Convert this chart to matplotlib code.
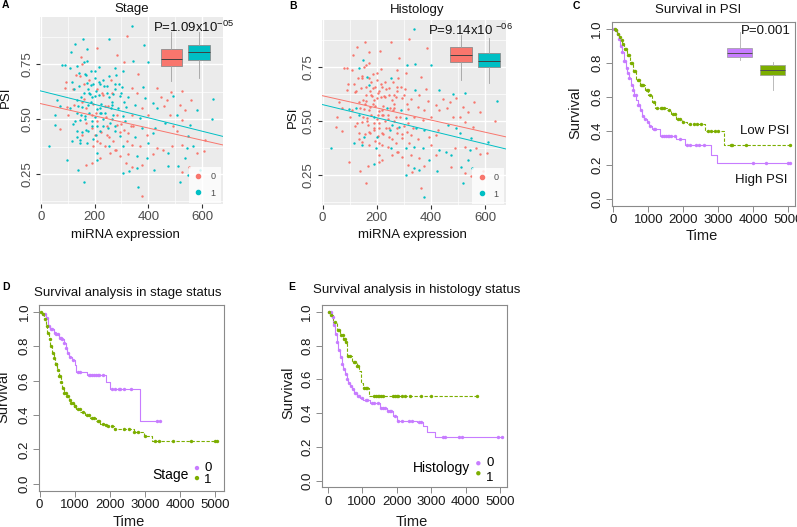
import numpy as np
import matplotlib
matplotlib.use('Agg')
import matplotlib.pyplot as plt
from matplotlib.lines import Line2D

plt.rcParams['font.family'] = ['Liberation Sans', 'DejaVu Sans']
plt.rcParams['mathtext.fontset'] = 'custom'
plt.rcParams['mathtext.rm'] = 'Liberation Sans'
plt.rcParams['mathtext.it'] = 'Liberation Sans'
plt.rcParams['mathtext.bf'] = 'Liberation Sans:bold'

# ---------------- scatter data (panels A and B share points) ----------------
mirna = [338, 320, 156, 254, 211, 128, 171, 384, 283, 112,
         151, 171, 310, 342, 399, 78, 90, 109, 134, 153,
         276, 307, 202, 144, 147, 165, 252, 363, 94, 115,
         143, 171, 186, 221, 245, 276, 304, 341, 382, 431,
         483, 527, 90, 119, 208, 183, 202, 227, 270, 295,
         326, 357, 389, 446, 469, 493, 558, 642, 60, 134,
         162, 72, 97, 124, 152, 177, 208, 239, 264, 289,
         316, 351, 376, 419, 431, 460, 518, 536, 580, 53,
         103, 136, 165, 189, 221, 243, 270, 307, 338, 369,
         400, 481, 506, 524, 636, 72, 51, 128, 146, 169,
         190, 208, 233, 258, 283, 314, 345, 376, 425, 462,
         493, 555, 134, 152, 177, 202, 221, 245, 276, 295,
         326, 351, 394, 419, 506, 549, 611, 115, 146, 173,
         196, 221, 252, 276, 307, 338, 369, 400, 431, 456,
         487, 524, 543, 580, 607, 568, 32, 208, 221, 258,
         295, 326, 357, 394, 419, 475, 537, 169, 190, 208,
         317, 338, 357, 376, 421, 97, 140, 307, 329, 475,
         512, 553, 592, 524, 159, 518, 363, 376, 549,
         150, 160, 175, 185, 195, 205, 215, 225, 235, 245,
         255, 265, 275, 140, 150, 165, 180, 190, 200, 210,
         220, 230, 240, 250, 260, 170, 185, 200, 215, 230,
         160, 125, 110, 120, 135, 145, 155, 195, 205, 170,
         180, 190, 215, 225, 280, 290, 300, 310, 265, 275,
         155, 170, 195, 205, 230, 250, 265, 285, 300, 310,
         190, 210, 225, 240, 255, 270, 280, 160, 180, 260,
         295, 320, 335, 245, 130]
psi = [0.925, 0.882, 0.867, 0.867, 0.827, 0.842, 0.82, 0.839, 0.793, 0.805,
       0.782, 0.767, 0.762, 0.765, 0.762, 0.748, 0.747, 0.736, 0.744, 0.752,
       0.736, 0.721, 0.721, 0.71, 0.698, 0.706, 0.698, 0.706, 0.672, 0.672,
       0.652, 0.667, 0.655, 0.66, 0.652, 0.66, 0.649, 0.644, 0.649, 0.644,
       0.624, 0.629, 0.644, 0.637, 0.64, 0.617, 0.606, 0.618, 0.613, 0.606,
       0.603, 0.621, 0.595, 0.603, 0.59, 0.606, 0.59, 0.594, 0.59, 0.59,
       0.594, 0.56, 0.557, 0.563, 0.555, 0.567, 0.548, 0.56, 0.563, 0.552,
       0.557, 0.567, 0.552, 0.575, 0.552, 0.56, 0.567, 0.544, 0.544, 0.521,
       0.521, 0.529, 0.514, 0.521, 0.529, 0.511, 0.521, 0.514, 0.521, 0.506,
       0.521, 0.521, 0.521, 0.498, 0.503, 0.455, 0.475, 0.49, 0.498, 0.483,
       0.471, 0.49, 0.468, 0.483, 0.475, 0.49, 0.468, 0.46, 0.46, 0.483,
       0.471, 0.475, 0.445, 0.429, 0.445, 0.429, 0.445, 0.429, 0.445, 0.422,
       0.437, 0.419, 0.429, 0.437, 0.445, 0.422, 0.406, 0.399, 0.406, 0.391,
       0.376, 0.391, 0.376, 0.36, 0.376, 0.383, 0.376, 0.391, 0.368, 0.36,
       0.376, 0.383, 0.368, 0.348, 0.353, 0.376, 0.376, 0.345, 0.322, 0.345,
       0.333, 0.342, 0.33, 0.322, 0.342, 0.345, 0.322, 0.291, 0.302, 0.314,
       0.299, 0.284, 0.276, 0.291, 0.268, 0.314, 0.268, 0.253, 0.265, 0.287,
       0.287, 0.284, 0.268, 0.26, 0.215, 0.215, 0.192, 0.15, 0.245,
       0.60, 0.62, 0.64, 0.58, 0.66, 0.63, 0.61, 0.57, 0.65, 0.62,
       0.60, 0.58, 0.64, 0.56, 0.52, 0.50, 0.53, 0.49, 0.51, 0.47,
       0.55, 0.50, 0.53, 0.46, 0.55, 0.70, 0.72, 0.69, 0.74, 0.68,
       0.76, 0.64, 0.55, 0.48, 0.42, 0.39, 0.44, 0.41, 0.43, 0.45,
       0.62, 0.60, 0.67, 0.53, 0.70, 0.66, 0.62, 0.58, 0.50, 0.47,
       0.58, 0.55, 0.57, 0.53, 0.61, 0.56, 0.62, 0.52, 0.48, 0.45,
       0.46, 0.40, 0.44, 0.38, 0.42, 0.40, 0.36, 0.66, 0.68, 0.68,
       0.44, 0.40, 0.47, 0.47, 0.70]
stage = [1, 0, 1, 1, 0, 1, 1, 1, 0, 1,
         0, 1, 0, 1, 1, 1, 1, 1, 1, 0,
         1, 1, 1, 1, 0, 1, 1, 0, 0, 1,
         1, 1, 1, 1, 1, 1, 1, 0, 1, 0,
         0, 0, 0, 0, 0, 1, 1, 0, 1, 1,
         1, 0, 1, 0, 0, 1, 0, 1, 1, 1,
         0, 1, 0, 0, 1, 1, 1, 0, 1, 1,
         1, 1, 0, 1, 1, 0, 0, 0, 1, 1,
         0, 1, 1, 0, 1, 0, 1, 1, 0, 1,
         0, 0, 1, 0, 1, 0, 1, 1, 1, 0,
         1, 0, 1, 1, 0, 1, 0, 1, 1, 1,
         0, 1, 1, 0, 1, 0, 1, 0, 1, 1,
         0, 1, 0, 1, 0, 1, 0, 1, 1, 1,
         0, 0, 1, 0, 1, 0, 0, 1, 0, 0,
         0, 0, 1, 0, 0, 1, 1, 1, 0, 0,
         0, 0, 1, 1, 0, 1, 1, 0, 0, 1,
         0, 0, 1, 0, 1, 1, 1, 1, 1, 1,
         1, 0, 1, 0, 1, 1, 1, 0, 1,
         1, 1, 1, 1, 1, 1, 1, 1, 1, 1,
         1, 1, 1, 1, 1, 1, 1, 1, 1, 1,
         1, 1, 1, 1, 1, 1, 1, 1, 1, 1,
         1, 1, 1, 1, 1, 1, 1, 1, 1, 1,
         1, 1, 1, 1, 1, 1, 1, 1, 1, 1,
         0, 0, 0, 0, 0, 0, 0, 0, 0, 0,
         0, 0, 0, 0, 0, 0, 0, 0, 0, 0,
         0, 0, 0, 0, 0]
histology = [1, 0, 0, 0, 0, 0, 0, 0, 0, 0,
             1, 0, 1, 1, 1, 0, 0, 0, 1, 0,
             0, 0, 0, 0, 0, 1, 1, 0, 0, 0,
             0, 1, 0, 0, 0, 0, 0, 1, 0, 1,
             1, 1, 0, 0, 0, 0, 0, 0, 0, 0,
             0, 0, 0, 0, 0, 0, 0, 1, 0, 0,
             0, 0, 1, 1, 0, 0, 0, 1, 0, 1,
             0, 0, 0, 0, 0, 0, 0, 0, 0, 0,
             0, 1, 0, 1, 0, 0, 0, 1, 0, 0,
             0, 0, 0, 0, 0, 0, 0, 0, 0, 0,
             0, 0, 0, 1, 1, 0, 1, 1, 0, 1,
             1, 0, 0, 1, 0, 1, 0, 0, 0, 0,
             0, 0, 0, 0, 1, 1, 1, 1, 0, 0,
             1, 0, 1, 0, 1, 1, 1, 0, 1, 1,
             0, 0, 1, 0, 0, 0, 1, 0, 0, 0,
             0, 0, 0, 1, 0, 1, 1, 0, 1, 0,
             0, 1, 1, 0, 1, 0, 0, 1, 0, 0,
             1, 1, 0, 0, 0, 1, 0, 1, 0,
             0, 0, 0, 0, 0, 0, 0, 0, 0, 0,
             0, 0, 0, 0, 0, 0, 0, 0, 0, 0,
             0, 0, 0, 1, 0, 0, 0, 0, 0, 0,
             0, 0, 0, 0, 0, 1, 0, 0, 0, 0,
             0, 0, 0, 0, 0, 0, 0, 0, 0, 0,
             0, 0, 0, 0, 0, 0, 0, 0, 0, 0,
             0, 0, 0, 0, 0, 0, 0, 0, 0, 0,
             0, 0, 0, 0, 0]

# linear fits (group 0, group 1): intercept, slope
fitA_int = [0.571, 0.629]
fitA_slope = [-0.000278, -0.000306]
fitB_int = [0.618, 0.577]
fitB_slope = [-0.000281, -0.000303]

# inset boxplots: [whislo, q1, med, q3, whishi]
boxA = [[0.675, 0.745, 0.775, 0.82, 0.90], [0.686, 0.771, 0.808, 0.837, 0.90]]
boxB = [[0.689, 0.774, 0.808, 0.841, 0.899], [0.679, 0.75, 0.78, 0.815, 0.884]]
boxC = [[0.815, 0.831, 0.854, 0.887, 0.98], [0.64, 0.730, 0.757, 0.784, 0.806]]

# ---------------- survival data (step times, survival after step) ----------------
c_high_t = [0, 50, 100, 150, 200, 250, 300, 350, 400, 450, 500, 550, 600, 650, 700,
            760, 820, 880, 950, 1020, 1100, 1330, 1800, 2050, 2780, 2950]
c_high_s = [1.0, 0.99, 0.97, 0.94, 0.90, 0.86, 0.81, 0.77, 0.74, 0.71, 0.67, 0.64, 0.61,
            0.58, 0.55, 0.52, 0.49, 0.47, 0.45, 0.43, 0.41, 0.37, 0.35, 0.32, 0.26, 0.21]
c_high_marks = [30, 80, 130, 170, 220, 260, 300, 340, 380, 420, 460, 520, 560, 600, 640,
                700, 740, 800, 860, 900, 1000, 1060, 1150, 1200, 1380, 1450, 1500, 1550,
                1600, 1650, 1750, 1900, 2100, 2200, 2350, 2450, 2600, 4000, 4350, 5000, 5050]
c_low_t = [0, 50, 100, 150, 200, 250, 300, 380, 470, 570, 660, 760, 900, 1000, 1100,
           1200, 1520, 1650, 1800, 1950, 2100, 2630, 3150]
c_low_s = [1.0, 0.99, 0.97, 0.95, 0.93, 0.91, 0.88, 0.845, 0.80, 0.75, 0.70, 0.67, 0.64,
           0.61, 0.57, 0.535, 0.52, 0.50, 0.47, 0.455, 0.44, 0.40, 0.316]
c_low_marks = [40, 90, 140, 190, 240, 280, 320, 360, 420, 450, 500, 540, 600, 620, 700,
               720, 780, 820, 860, 950, 980, 1050, 1150, 1250, 1350, 1400, 1450, 1600,
               1700, 1750, 1850, 1900, 2000, 2200, 2300, 2400, 2500, 2700, 2800, 2900,
               3000, 3350, 3400, 3800, 5050]

d_s0_t = [0, 80, 170, 250, 312, 400, 455, 560, 620, 690, 740, 786, 850, 928, 1000, 1050,
          1354, 1900, 1998, 2850]
d_s0_s = [1.0, 0.99, 0.967, 0.92, 0.90, 0.88, 0.87, 0.85, 0.84, 0.82, 0.79, 0.76, 0.74,
          0.72, 0.69, 0.65, 0.63, 0.59, 0.55, 0.367]
d_s0_marks = [100, 150, 200, 280, 330, 360, 430, 480, 520, 580, 600, 650, 700, 760, 800,
              880, 950, 1100, 1150, 1400, 1450, 1500, 1550, 1600, 1650, 1700, 1800, 2050,
              2150, 2250, 2300, 2400, 2600, 3350, 3437]
d_s1_t = [0, 60, 120, 170, 220, 270, 312, 360, 407, 450, 500, 550, 597, 650, 690, 760,
          833, 900, 975, 1050, 1165, 1300, 1450, 1600, 1733, 1850, 1922, 2110, 2680, 2964, 3200]
d_s1_s = [1.0, 0.99, 0.96, 0.92, 0.88, 0.84, 0.80, 0.76, 0.73, 0.695, 0.66, 0.625, 0.59,
          0.56, 0.53, 0.51, 0.49, 0.47, 0.45, 0.435, 0.42, 0.40, 0.38, 0.365, 0.35, 0.34,
          0.335, 0.32, 0.30, 0.277, 0.248]
d_s1_marks = [50, 100, 150, 200, 250, 300, 340, 380, 420, 460, 480, 520, 560, 580, 620,
              660, 700, 740, 780, 820, 860, 900, 940, 1000, 1020, 1100, 1150, 1250, 1350,
              1400, 1500, 1550, 1650, 1700, 1800, 1900, 1950, 2050, 2150, 2400, 2550, 2700,
              2800, 3000, 3300, 3400, 3800, 4300, 5000, 5050]

e_h0_t = [0, 116, 160, 213, 260, 310, 360, 406, 450, 503, 550, 600, 650, 696, 760, 841,
          950, 1035, 1228, 1518, 1712, 1905, 2000, 2580, 2775, 2872, 3114]
e_h0_s = [1.0, 0.97, 0.92, 0.87, 0.82, 0.775, 0.73, 0.69, 0.66, 0.63, 0.60, 0.58, 0.56,
          0.54, 0.52, 0.50, 0.49, 0.48, 0.46, 0.43, 0.414, 0.385, 0.355, 0.346, 0.326,
          0.29, 0.258]
e_h0_marks = [50, 100, 140, 190, 230, 280, 330, 380, 420, 480, 520, 570, 620, 670, 720,
              780, 820, 880, 920, 1000, 1100, 1150, 1300, 1350, 1450, 1550, 1600, 1650,
              1750, 1800, 1850, 1950, 2050, 2150, 2350, 2450, 2650, 2700, 3350, 3400,
              3800, 3900, 4950, 5048]
e_h1_t = [0, 70, 164, 261, 358, 455, 503, 551, 696, 841, 919, 957, 1015, 1209]
e_h1_s = [1.0, 0.98, 0.94, 0.89, 0.86, 0.84, 0.82, 0.74, 0.70, 0.68, 0.65, 0.58, 0.55, 0.50]
e_h1_marks = [30, 100, 200, 300, 330, 400, 430, 470, 490, 520, 600, 650, 750, 800, 850,
              880, 1050, 1100, 1150, 1350, 1400, 1450, 1500, 1550, 1600, 1900, 1950, 2000,
              2050, 2150, 2250, 2400, 2700, 3000, 4323]

# ---------------- colours ----------------
RED, TEAL = '#F8766D', '#00BFC4'
PURPLE, GREEN = '#C77CFF', '#7CAE00'

W, H = 797, 527
fig = plt.figure(figsize=(W / 100, H / 100), dpi=100)


def px_axes(l, t, r, b):
    return fig.add_axes([l / W, 1 - b / H, (r - l) / W, (b - t) / H])


def ftext(x, y, s, **kw):
    fig.text(x / W, 1 - y / H, s, **kw)


def place_labels(ax, xl, yl):
    ax.xaxis.set_label_coords(*xl)
    ax.yaxis.set_label_coords(*yl)
    ax.xaxis.label.set_verticalalignment('center')
    ax.xaxis.label.set_horizontalalignment('center')
    ax.yaxis.label.set_verticalalignment('center')
    ax.yaxis.label.set_horizontalalignment('center')


x_arr = np.array(mirna, float)
y_arr = np.array(psi, float)
XL = (-3, 677)
YL = (0.113, 0.968)


def gg_panel(ax, groups, f_int, f_slope, boxes, box_pos, box_w, ptext, ptext_x):
    g = np.array(groups)
    ax.set_facecolor('#EBEBEB')
    for s in ax.spines.values():
        s.set_visible(False)
    ax.set_xlim(*XL)
    ax.set_ylim(*YL)
    ax.set_xticks([0, 200, 400, 600])
    ax.set_xticks([100, 300, 500], minor=True)
    ax.set_yticks([0.25, 0.5, 0.75])
    ax.set_yticks([0.125, 0.375, 0.625, 0.875], minor=True)
    ax.set_yticklabels(['0.25', '0.50', '0.75'], rotation=90, va='center')
    ax.grid(which='major', color='white', lw=1.0)
    ax.grid(which='minor', color='white', lw=0.5)
    ax.set_axisbelow(True)
    ax.tick_params(which='minor', length=0)
    ax.tick_params(which='major', length=3, width=0.8, color='#333333',
                   labelsize=9.5, labelcolor='#4D4D4D', pad=2)
    cols = [RED, TEAL]
    for k in (0, 1):
        m = g == k
        ax.scatter(x_arr[m], y_arr[m], s=3, color=cols[k], lw=0, zorder=2)
    xs = np.array(XL, float)
    for k in (0, 1):
        ax.plot(xs, f_int[k] + f_slope[k] * xs, color=cols[k], lw=0.7, zorder=3)
    stats = [dict(whislo=b[0], q1=b[1], med=b[2], q3=b[3], whishi=b[4], fliers=[])
             for b in boxes]
    bp = ax.bxp(stats, positions=box_pos, widths=box_w, patch_artist=True,
                showfliers=False, showcaps=False, manage_ticks=False,
                boxprops=dict(edgecolor='#8C8C8C', lw=0.6),
                whiskerprops=dict(color='#A0A0A0', lw=0.6),
                medianprops=dict(color='#404040', lw=0.7), zorder=4)
    for p, c in zip(bp['boxes'], cols):
        p.set_facecolor(c)
    ax.text(ptext_x, 0.92, ptext, ha='left', va='center', fontsize=9.5, color='#111111',
            zorder=5)
    handles = [Line2D([], [], marker='o', ls='', color=c, markersize=3) for c in cols]
    leg = ax.legend(handles, ['0', '1'], loc='lower right', bbox_to_anchor=(0.99, 0.005),
                    frameon=True, fancybox=False, fontsize=6.5, handlelength=0.9,
                    handletextpad=0.9, labelspacing=0.8, borderpad=0.6, borderaxespad=0.0)
    leg.get_frame().set_facecolor('white')
    leg.get_frame().set_edgecolor('none')
    leg.set_zorder(6)
    for t in leg.get_texts():
        t.set_color('#4D4D4D')
    ax.set_xlabel('miRNA expression', fontsize=9.5, color='#111111')
    ax.set_ylabel('PSI', fontsize=9.5, color='#111111')


def km_step(ax, t, s, end, marks, color, ls):
    t = np.array(t, float)
    s = np.array(s, float)
    ax.step(np.append(t, end), np.append(s, s[-1]), where='post', color=color, lw=0.8,
            ls=ls, zorder=2)
    mk = np.array(marks, float)
    idx = np.searchsorted(t, mk, side='right') - 1
    ax.scatter(mk, s[idx], s=6, color=color, lw=0, zorder=3)


def km_axes(ax, xlim):
    ax.set_xlim(*xlim)
    ax.set_ylim(-0.04, 1.04)
    for sp in ax.spines.values():
        sp.set_color('#8A8A8A')
        sp.set_linewidth(0.8)
    ax.set_xticks([0, 1000, 2000, 3000, 4000, 5000])
    ax.set_yticks([0, 0.2, 0.4, 0.6, 0.8, 1.0])
    ax.set_yticklabels(['0.0', '0.2', '0.4', '0.6', '0.8', '1.0'], rotation=90, va='center')
    ax.tick_params(length=4, width=0.7, color='#8A8A8A', labelsize=9.5, labelcolor='#1A1A1A',
                   pad=2)
    ax.set_xlabel('Time', fontsize=10.5, color='#1A1A1A')
    ax.set_ylabel('Survival', fontsize=10.5, color='#1A1A1A')


# ---------------- Panel A ----------------
axA = px_axes(40, 16.7, 222.7, 204)
gg_panel(axA, stage, fitA_int, fitA_slope, boxA, [486, 590], [79, 81],
         'P=1.09x10$^{-05}$', 419)
place_labels(axA, (0.465, -0.166), (-0.186, 0.57))
ftext(132, 9, 'Stage', ha='center', va='center', fontsize=9.5, color='#111111')
ftext(2, 5.5, 'A', ha='left', va='center', fontsize=7.5, fontweight='bold')

# ---------------- Panel B ----------------
axB = px_axes(321.7, 20, 506, 205)
gg_panel(axB, histology, fitB_int, fitB_slope, boxB, [511, 614], [82, 80],
         'P=9.14x10 $^{-06}$', 390)
place_labels(axB, (0.49, -0.162), (-0.156, 0.476))
ftext(417, 9.5, 'Histology', ha='center', va='center', fontsize=9.5, color='#111111')
ftext(289, 6, 'B', ha='left', va='center', fontsize=7.5, fontweight='bold')

# ---------------- Panel C ----------------
axC = px_axes(611.7, 21.7, 795, 206)
km_axes(axC, (-46, 5190))
km_step(axC, c_high_t, c_high_s, 5050, c_high_marks, PURPLE, '-')
km_step(axC, c_low_t, c_low_s, 5050, c_low_marks, GREEN, (0, (3, 1.5)))
bstats = [dict(whislo=b[0], q1=b[1], med=b[2], q3=b[3], whishi=b[4], fliers=[]) for b in boxC]
bpc = axC.bxp(bstats, positions=[3605, 4548], widths=[695, 715], patch_artist=True,
              showfliers=False, showcaps=False, manage_ticks=False,
              boxprops=dict(edgecolor='#9A9A9A', lw=0.5),
              whiskerprops=dict(color='#B0B0B0', lw=0.6),
              medianprops=dict(color='#505050', lw=0.7), zorder=4)
for p, c in zip(bpc['boxes'], [PURPLE, GREEN]):
    p.set_facecolor(c)
axC.text(5080, 0.986, 'P=0.001', ha='right', va='center', fontsize=9.5, color='#111111')
axC.text(4333, 0.402, 'Low PSI', ha='center', va='center', fontsize=9.5, color='#111111')
axC.text(4238, 0.115, 'High PSI', ha='center', va='center', fontsize=9.5, color='#111111')
place_labels(axC, (0.49, -0.163), (-0.2, 0.505))
ftext(698, 10, 'Survival in PSI', ha='center', va='center', fontsize=9.5, color='#111111')
ftext(573, 6, 'C', ha='left', va='center', fontsize=7.5, fontweight='bold')

# ---------------- Panel D ----------------
axD = px_axes(39, 305, 224, 490.7)
km_axes(axD, (-15, 5250))
km_step(axD, d_s0_t, d_s0_s, 3437, d_s0_marks, PURPLE, '-')
km_step(axD, d_s1_t, d_s1_s, 5050, d_s1_marks, GREEN, (0, (3, 1.5)))
axD.scatter([0.854, 0.854], [0.122, 0.068], s=10, color=[PURPLE, GREEN], lw=0,
            transform=axD.transAxes, clip_on=False)
axD.text(0.914, 0.124, '0', transform=axD.transAxes, ha='center', va='center', fontsize=9.5)
axD.text(0.914, 0.056, '1', transform=axD.transAxes, ha='center', va='center', fontsize=9.5)
axD.text(0.81, 0.085, 'Stage', transform=axD.transAxes, ha='right', va='center',
         fontsize=10)
place_labels(axD, (0.486, -0.169), (-0.195, 0.505))
ftext(128, 293, 'Survival analysis in stage status', ha='center', va='center', fontsize=9.5,
      color='#111111')
ftext(2, 287, 'D', ha='left', va='center', fontsize=7.5, fontweight='bold')

# ---------------- Panel E ----------------
axE = px_axes(321.7, 305, 507.3, 487.3)
km_axes(axE, (-174, 5212))
km_step(axE, e_h0_t, e_h0_s, 5048, e_h0_marks, PURPLE, '-')
km_step(axE, e_h1_t, e_h1_s, 4323, e_h1_marks, GREEN, (0, (3, 1.5)))
axE.scatter([0.844, 0.844], [0.132, 0.077], s=10, color=[PURPLE, GREEN], lw=0,
            transform=axE.transAxes, clip_on=False)
axE.text(0.907, 0.134, '0', transform=axE.transAxes, ha='center', va='center', fontsize=9.5)
axE.text(0.907, 0.053, '1', transform=axE.transAxes, ha='center', va='center', fontsize=9.5)
axE.text(0.80, 0.104, 'Histology', transform=axE.transAxes, ha='right', va='center',
         fontsize=10)
place_labels(axE, (0.487, -0.19), (-0.18, 0.517))
ftext(417, 290, 'Survival analysis in histology status', ha='center', va='center',
      fontsize=9.5, color='#111111')
ftext(288, 287, 'E', ha='left', va='center', fontsize=7.5, fontweight='bold')

fig.savefig('out.png', dpi=100)
